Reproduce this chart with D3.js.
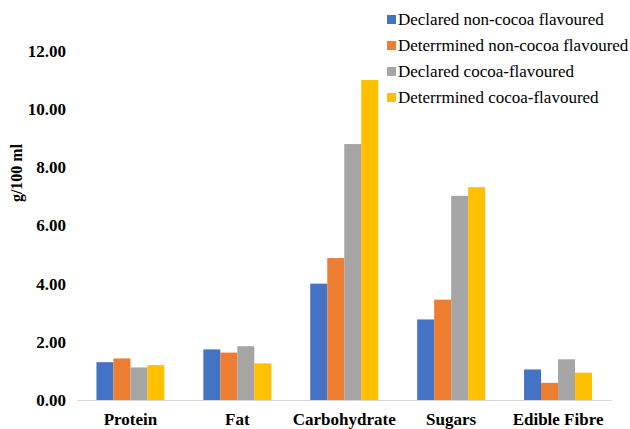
<!DOCTYPE html>
<html>
<head>
<meta charset="utf-8">
<script src="https://cdn.jsdelivr.net/npm/d3@7"></script>
<style>
  html, body { margin: 0; padding: 0; background: #fff; }
  svg { display: block; }
  svg text { font-family: "Liberation Serif", "Times New Roman", Times, "DejaVu Serif", serif; }
</style>
</head>
<body>
<svg id="chart" width="630" height="429"></svg>
<script>
// Nutrient categories along the x axis
const categories = ["Protein", "Fat", "Carbohydrate", "Sugars", "Edible Fibre"];

// Series names (legend order) and their values in g/100 ml
const seriesNames = [
  "Declared non-cocoa flavoured",
  "Deterrmined non-cocoa flavoured",
  "Declared cocoa-flavoured",
  "Deterrmined cocoa-flavoured"
];
const declaredNonCocoa    = [1.30, 1.74, 4.00, 2.77, 1.05];
const determinedNonCocoa  = [1.43, 1.63, 4.88, 3.45, 0.59];
const declaredCocoa       = [1.12, 1.85, 8.80, 7.02, 1.40];
const determinedCocoa     = [1.20, 1.26, 11.00, 7.32, 0.94];

// Y axis tick values
const yTicks = [0, 2, 4, 6, 8, 10, 12];

const seriesValues = [declaredNonCocoa, determinedNonCocoa, declaredCocoa, determinedCocoa];
const colors = ["#4472C4", "#ED7D31", "#A5A5A5", "#FFC000"];

const svg = d3.select("#chart");

const plot = { left: 77, right: 611.5, top: 51, bottom: 400 };

const x = d3.scaleBand()
  .domain(categories)
  .range([plot.left, plot.right])
  .paddingInner(0.364)
  .paddingOuter(0.182);

const xInner = d3.scaleBand()
  .domain(d3.range(seriesNames.length))
  .range([0, x.bandwidth()]);

const y = d3.scaleLinear()
  .domain([0, 12])
  .range([plot.bottom, plot.top]);

// Bars
const groups = svg.append("g")
  .selectAll("g")
  .data(categories)
  .join("g")
  .attr("transform", d => `translate(${x(d)},0)`);

groups.selectAll("rect")
  .data((d, ci) => seriesValues.map((vals, si) => ({ si, v: vals[ci] })))
  .join("rect")
  .attr("x", d => xInner(d.si))
  .attr("width", xInner.bandwidth())
  .attr("y", d => y(d.v))
  .attr("height", d => y(0) - y(d.v))
  .attr("fill", d => colors[d.si]);

// X axis
const xAxis = svg.append("g")
  .attr("transform", `translate(0,${plot.bottom})`)
  .call(d3.axisBottom(x).tickSize(0).tickPadding(13));
xAxis.attr("font-family", null);
xAxis.select(".domain").attr("stroke", "#D9D9D9").attr("stroke-width", 1);
xAxis.selectAll("text")
  .style("font-size", "17px")
  .style("font-weight", "bold")
  .attr("fill", "#000");

// Y axis (labels only)
const yAxis = svg.append("g")
  .attr("transform", `translate(${plot.left},0)`)
  .call(d3.axisLeft(y).tickValues(yTicks).tickFormat(d3.format(".2f")).tickSize(0).tickPadding(11));
yAxis.attr("font-family", null);
yAxis.select(".domain").remove();
yAxis.selectAll("text")
  .style("font-size", "17px")
  .style("font-weight", "bold")
  .attr("fill", "#000");

// Y axis title
svg.append("text")
  .attr("transform", "translate(22,173) rotate(-90)")
  .attr("text-anchor", "middle")
  .style("font-size", "16px")
  .style("font-weight", "bold")
  .attr("fill", "#000")
  .text("g/100 ml");

// Legend
const legend = svg.append("g")
  .selectAll("g")
  .data(seriesNames)
  .join("g")
  .attr("transform", (d, i) => `translate(387,${19.5 + i * 26})`);

legend.append("rect")
  .attr("x", 0)
  .attr("y", -4.5)
  .attr("width", 9)
  .attr("height", 9)
  .attr("fill", (d, i) => colors[i]);

legend.append("text")
  .attr("x", 11)
  .attr("y", 5.8)
  .style("font-size", "17px")
  .attr("fill", "#000")
  .text(d => d);
</script>
</body>
</html>
